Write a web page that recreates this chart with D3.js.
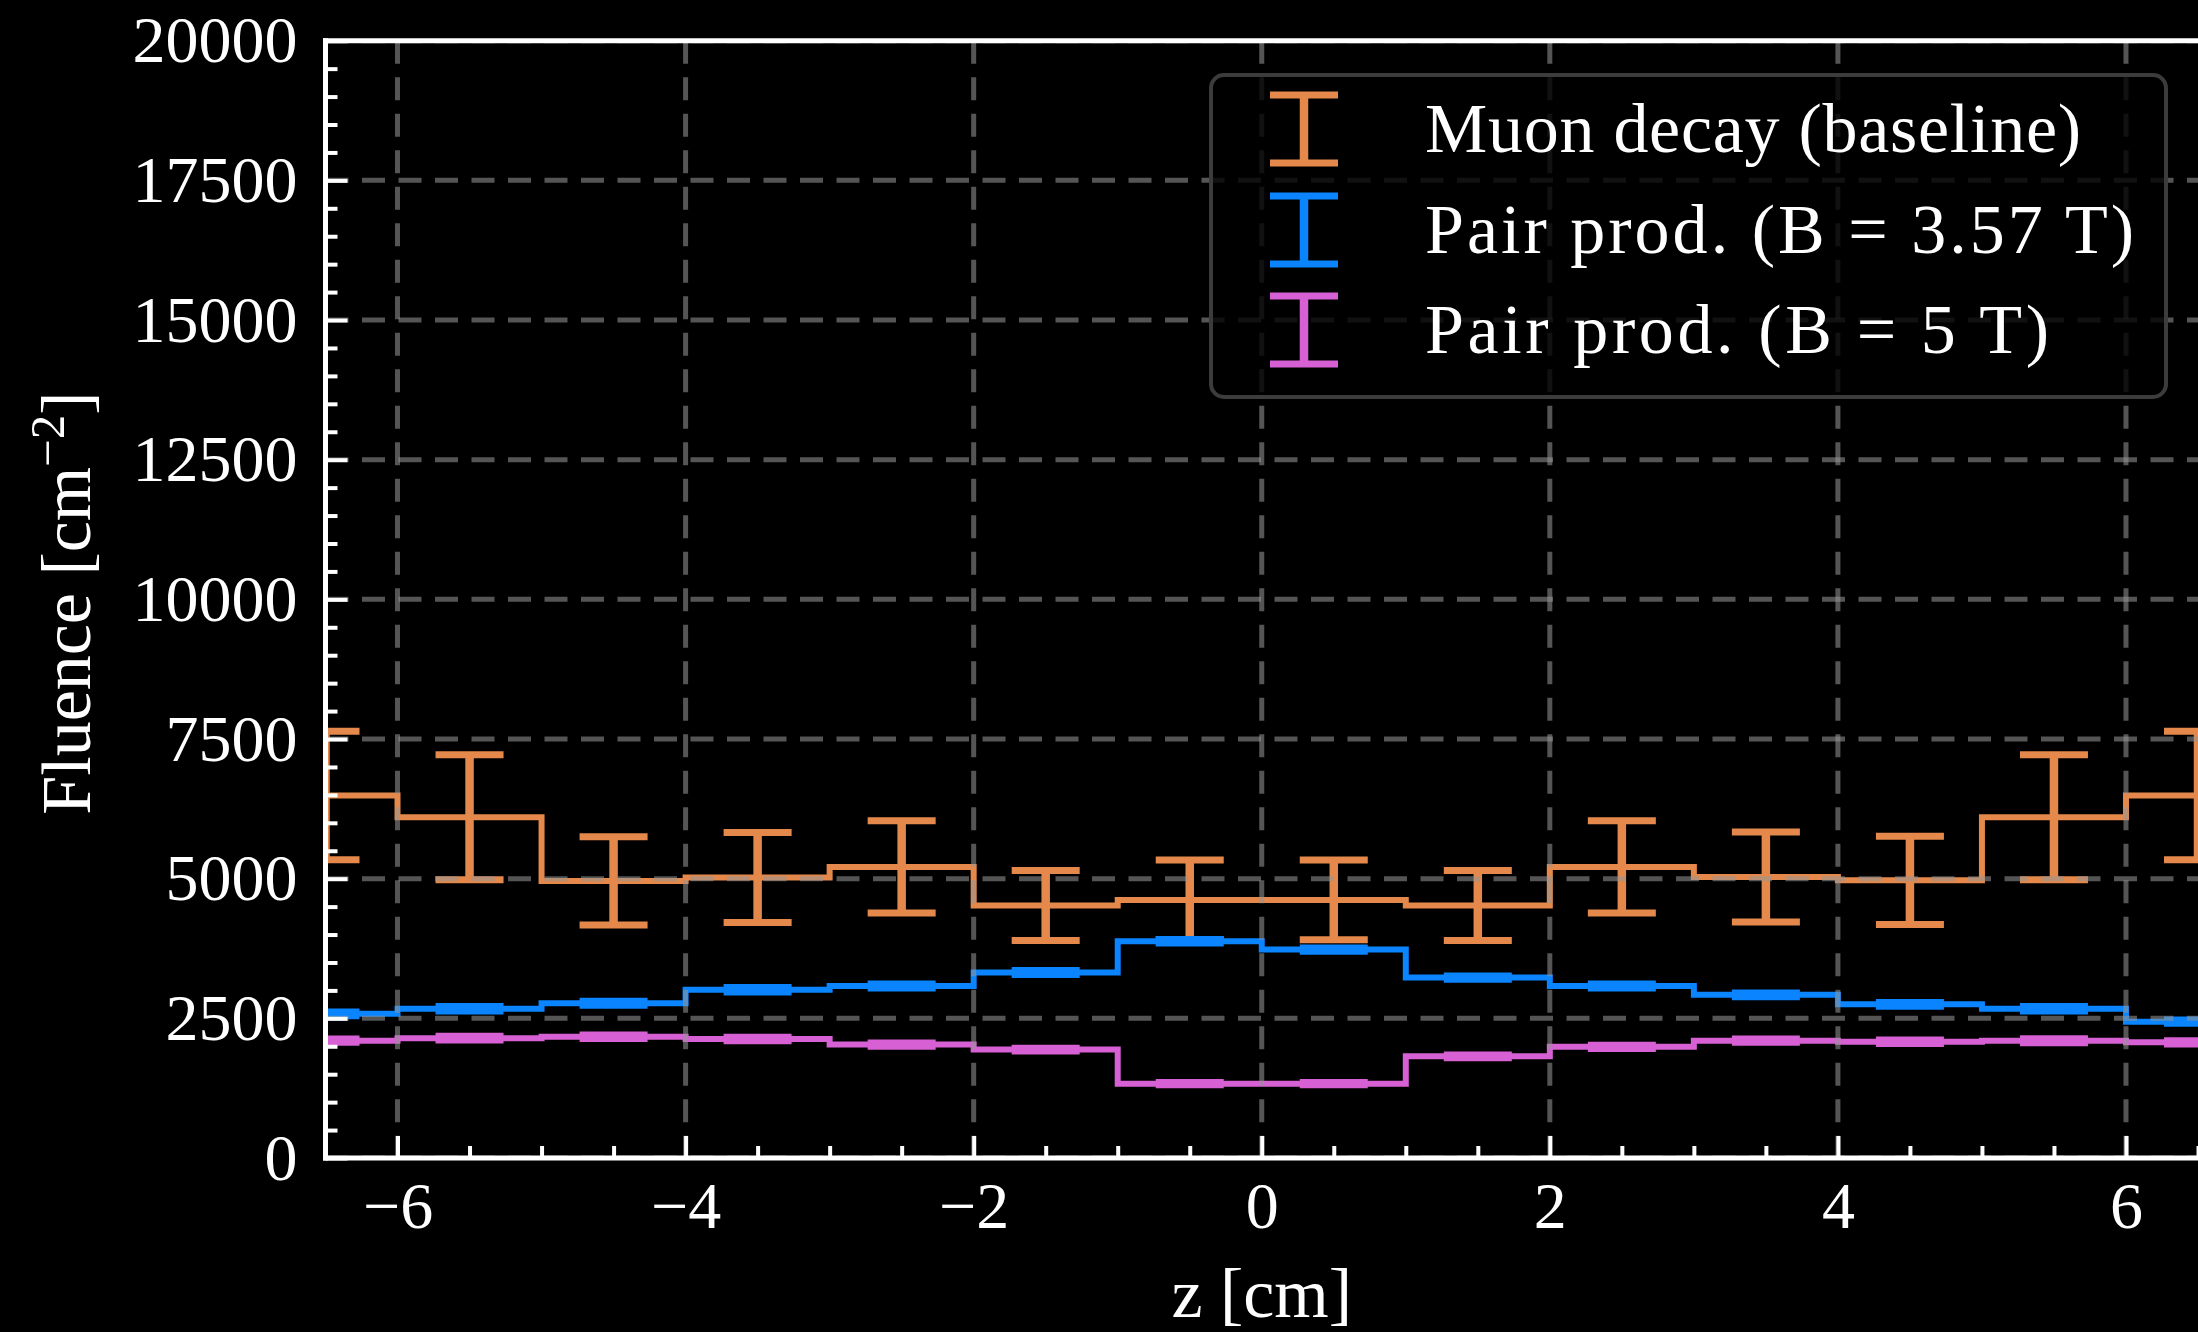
<!DOCTYPE html>
<html>
<head>
<meta charset="utf-8">
<script src="https://cdn.jsdelivr.net/npm/d3@7"></script>
<style>
  html, body { margin: 0; padding: 0; background: #000; overflow: hidden; }
  svg { display: block; }
  text { font-family: "Liberation Serif", "Times New Roman", serif; fill: #fff; }
</style>
</head>
<body>
<svg id="chart" width="2198" height="1332"></svg>
<script>
// Bin centres along the beam axis (1 cm wide bins)
const zCenters = [-6.5, -5.5, -4.5, -3.5, -2.5, -1.5, -0.5, 0.5, 1.5, 2.5, 3.5, 4.5, 5.5, 6.5];
const binWidth = 1;

// Fluence per bin [cm^-2] and statistical uncertainties
const muonDecay    = [6490, 6100, 4960, 5020, 5210, 4520, 4620, 4620, 4520, 5210, 5030, 4970, 6100, 6490];
const muonDecayErr = [1150, 1120, 790, 805, 825, 625, 715, 715, 625, 825, 805, 790, 1120, 1150];

const pairB357     = [2580, 2670, 2770, 3010, 3080, 3320, 3880, 3730, 3230, 3080, 2920, 2750, 2670, 2440];
const pairB357Err  = [35, 40, 35, 40, 35, 35, 30, 30, 30, 35, 35, 35, 40, 30];

const pairB5       = [2100, 2145, 2170, 2130, 2030, 1940, 1330, 1330, 1820, 1990, 2100, 2080, 2100, 2070];
const pairB5Err    = [30, 35, 30, 30, 30, 25, 20, 20, 25, 30, 30, 30, 35, 30];

// Axis ticks
const xMajorTicks = [-6, -4, -2, 0, 2, 4, 6];
const xMinorTicks = d3.range(-6.5, 6.51, 0.5).filter(v => !xMajorTicks.includes(v));
const yMajorTicks = [0, 2500, 5000, 7500, 10000, 12500, 15000, 17500, 20000];
const yMinorTicks = d3.range(0, 20001, 500).filter(v => v % 2500 !== 0);

const seriesNames  = ["Muon decay (baseline)", "Pair prod. (B = 3.57 T)", "Pair prod. (B = 5 T)"];
const seriesColors = ["#e4894b", "#0a84ff", "#d660d4"];
const seriesValues = [muonDecay, pairB357, pairB5];
const seriesErrors = [muonDecayErr, pairB357Err, pairB5Err];

// ---- layout ----
const plot = { left: 325.5, right: 2198, top: 40.7, bottom: 1158 };
const x = d3.scaleLinear().domain([-6.5, 6.5]).range([plot.left, plot.right]);
const y = d3.scaleLinear().domain([0, 20000]).range([plot.bottom, plot.top]);

const svg = d3.select("#chart");
svg.append("rect").attr("width", 2198).attr("height", 1332).attr("fill", "#000");

svg.append("defs").append("clipPath").attr("id", "plot-clip")
  .append("rect")
  .attr("x", plot.left).attr("y", plot.top)
  .attr("width", plot.right - plot.left).attr("height", plot.bottom - plot.top);

const dataLayer = svg.append("g").attr("clip-path", "url(#plot-clip)");

const capHalf = 34;
const stepW = 6;
const stemW = 8.5;
const capW = 7;

function drawErrorBar(g, cx, lo, hi) {
  g.append("line").attr("x1", cx).attr("x2", cx).attr("y1", lo).attr("y2", hi).attr("stroke-width", stemW);
  g.append("line").attr("x1", cx - capHalf).attr("x2", cx + capHalf).attr("y1", lo).attr("y2", lo).attr("stroke-width", capW);
  g.append("line").attr("x1", cx - capHalf).attr("x2", cx + capHalf).attr("y1", hi).attr("y2", hi).attr("stroke-width", capW);
}

seriesValues.forEach((vals, s) => {
  const color = seriesColors[s];
  const errs = seriesErrors[s];
  // step outline of the histogram
  const edges = zCenters.map(c => c - binWidth / 2).concat([zCenters[zCenters.length - 1] + binWidth / 2]);
  const pts = edges.map((e, i) => [e, vals[Math.min(i, vals.length - 1)]]);
  const step = d3.line().x(d => x(d[0])).y(d => y(d[1])).curve(d3.curveStepAfter);
  dataLayer.append("path")
    .attr("d", step(pts))
    .attr("fill", "none")
    .attr("stroke", color)
    .attr("stroke-width", stepW)
    .attr("stroke-linejoin", "miter");

  // error bars at bin centres
  const eb = dataLayer.append("g").attr("stroke", color);
  zCenters.forEach((c, i) => {
    drawErrorBar(eb, x(c), y(vals[i] - errs[i]), y(vals[i] + errs[i]));
  });
});

// ---- dashed grid (drawn over the histograms) ----
const grid = svg.append("g").attr("clip-path", "url(#plot-clip)")
  .attr("stroke", "rgba(150,150,150,0.57)")
  .attr("stroke-width", 5)
  .attr("stroke-dasharray", "23,13.5");
xMajorTicks.forEach(v => {
  grid.append("line").attr("x1", x(v)).attr("x2", x(v)).attr("y1", plot.top).attr("y2", plot.bottom);
});
yMajorTicks.forEach(v => {
  grid.append("line").attr("x1", plot.left).attr("x2", plot.right).attr("y1", y(v)).attr("y2", y(v));
});

// ---- axes ----
const tickFont = 66;
function styleAxis(g) {
  g.select(".domain").remove();
  g.selectAll(".tick line").attr("stroke", "#fff").attr("stroke-width", 4);
  g.selectAll(".tick text")
    .attr("fill", "#fff")
    .style("font-size", tickFont + "px")
    .style("font-family", '"Liberation Serif", "Times New Roman", serif');
}

svg.append("g").attr("transform", `translate(${plot.left},0)`)
  .call(d3.axisLeft(y).tickValues(yMinorTicks).tickSize(-12).tickFormat(""))
  .call(styleAxis);
svg.append("g").attr("transform", `translate(${plot.left},0)`)
  .call(d3.axisLeft(y).tickValues(yMajorTicks).tickSize(-22).tickPadding(28).tickFormat(d3.format("d")))
  .call(styleAxis);

svg.append("g").attr("transform", `translate(0,${plot.bottom})`)
  .call(d3.axisBottom(x).tickValues(xMinorTicks).tickSize(-12).tickFormat(""))
  .call(styleAxis);
svg.append("g").attr("transform", `translate(0,${plot.bottom})`)
  .call(d3.axisBottom(x).tickValues(xMajorTicks).tickSize(-22).tickPadding(23).tickFormat(d3.format("d")))
  .call(styleAxis);

// spines
const spineW = 5;
const spines = svg.append("g").attr("stroke", "#fff").attr("stroke-width", spineW);
spines.append("line").attr("x1", plot.left).attr("x2", plot.left)
  .attr("y1", plot.top - spineW / 2).attr("y2", plot.bottom + spineW / 2);
spines.append("line").attr("x1", plot.left - spineW / 2).attr("x2", plot.right + 10)
  .attr("y1", plot.bottom).attr("y2", plot.bottom);
spines.append("line").attr("x1", plot.left - spineW / 2).attr("x2", plot.right + 10)
  .attr("y1", plot.top).attr("y2", plot.top);

// axis titles
svg.append("text")
  .attr("x", x(0)).attr("y", 1317)
  .attr("text-anchor", "middle")
  .style("font-size", "70px")
  .text("z [cm]");

const yLabel = svg.append("text")
  .attr("transform", "translate(90,603) rotate(-90)")
  .attr("text-anchor", "middle")
  .style("font-size", "70px");
yLabel.append("tspan").text("Fluence [cm");
yLabel.append("tspan").attr("dy", -26).style("font-size", "49px").text("\u22122");
yLabel.append("tspan").attr("dy", 26).style("font-size", "70px").text("]");

// ---- legend ----
const legend = svg.append("g");
legend.append("rect")
  .attr("x", 1211).attr("y", 75).attr("width", 955).attr("height", 322)
  .attr("rx", 13).attr("ry", 13)
  .attr("fill", "rgba(0,0,0,0.8)")
  .attr("stroke", "#3c3c3c").attr("stroke-width", 4);

const rowY = [129, 230, 330];
const labelWidths = [656, 709, 624];
seriesNames.forEach((name, i) => {
  const cy = rowY[i];
  const hx = 1304;
  const h = legend.append("g").attr("stroke", seriesColors[i]);
  drawErrorBar(h, hx, cy + 34, cy - 34);
  legend.append("text")
    .attr("x", 1425).attr("y", cy + 23)
    .attr("textLength", labelWidths[i])
    .attr("lengthAdjust", "spacing")
    .style("font-size", "70px")
    .text(name);
});
</script>
</body>
</html>
